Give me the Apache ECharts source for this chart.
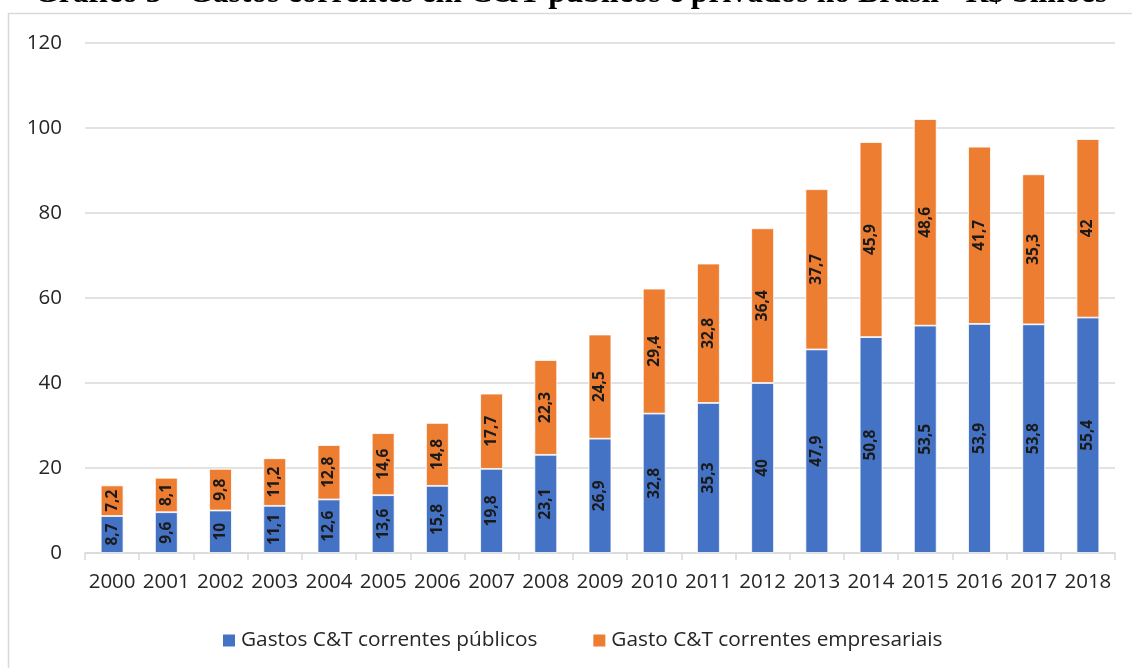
<!DOCTYPE html>
<html><head><meta charset="utf-8">
<script src="https://cdn.jsdelivr.net/npm/echarts@6/dist/echarts.min.js"></script>
<style>html,body{margin:0;padding:0;background:#fff}#c{width:1132px;height:668px}</style>
</head><body><div id="c"></div>
<script>
const years = ['2000','2001','2002','2003','2004','2005','2006','2007','2008','2009','2010','2011','2012','2013','2014','2015','2016','2017','2018'];
const publicos = [8.7, 9.6, 10, 11.1, 12.6, 13.6, 15.8, 19.8, 23.1, 26.9, 32.8, 35.3, 40, 47.9, 50.8, 53.5, 53.9, 53.8, 55.4];
const empresariais = [7.2, 8.1, 9.8, 11.2, 12.8, 14.6, 14.8, 17.7, 22.3, 24.5, 29.4, 32.8, 36.4, 37.7, 45.9, 48.6, 41.7, 35.3, 42];
const seriesNames = ['Gastos C&T correntes públicos', 'Gasto C&T correntes empresariais'];
const titleText = 'Gráfico 3 - Gastos correntes em C&T públicos e privados no Brasil - R$ bilhões';

const chart = echarts.init(document.getElementById('c'), null, {renderer:'canvas'});
const fmt = p => String(p.value).replace('.', ',');
const labelCfg = {show:true, position:'inside', rotate:90, formatter:fmt,
  fontFamily:'Open Sans', fontWeight:'bold', fontSize:15.5, color:'#1a1a1a'};
chart.setOption({
  animation:false,
  title:{text:titleText, left:34, top:-22, padding:0,
    textStyle:{fontFamily:'Liberation Serif', fontWeight:'bold', fontSize:31.7, color:'#000'}},
  graphic:[{type:'rect', shape:{x:8.5,y:13.5,width:1140,height:700},
    style:{fill:'none', stroke:'#d9d9d9', lineWidth:1.5}, z:-1}],
  grid:{left:85, right:17, top:43, bottom:115, containLabel:false},
  legend:{bottom:17, left:221, padding:0, itemWidth:14, itemHeight:14, itemGap:54,
    icon:'rect', textStyle:{fontFamily:'Open Sans', fontSize:20.8, color:'#262626'}},
  xAxis:{type:'category', data:years, boundaryGap:true,
    axisLine:{lineStyle:{color:'#d9d9d9', width:1.5}},
    axisTick:{show:true, length:7, lineStyle:{color:'#d9d9d9', width:1.5}},
    axisLabel:{interval:0, fontFamily:'Open Sans', fontSize:20.5, color:'#262626', margin:19}},
  yAxis:{type:'value', min:0, max:120, interval:20,
    splitLine:{lineStyle:{color:'#d9d9d9', width:1.5}},
    axisLine:{show:false}, axisTick:{show:false},
    axisLabel:{fontFamily:'Open Sans', fontSize:20.5, color:'#262626', margin:23}},
  series:[
    {name:seriesNames[0], type:'bar', stack:'t', data:publicos, barWidth:'42%',
      itemStyle:{color:'#4472C4', borderColor:'#ffffff', borderWidth:0.8}, label:labelCfg},
    {name:seriesNames[1], type:'bar', stack:'t', data:empresariais, barWidth:'42%',
      itemStyle:{color:'#ED7D31', borderColor:'#ffffff', borderWidth:0.8}, label:labelCfg}
  ]
});
</script></body></html>
